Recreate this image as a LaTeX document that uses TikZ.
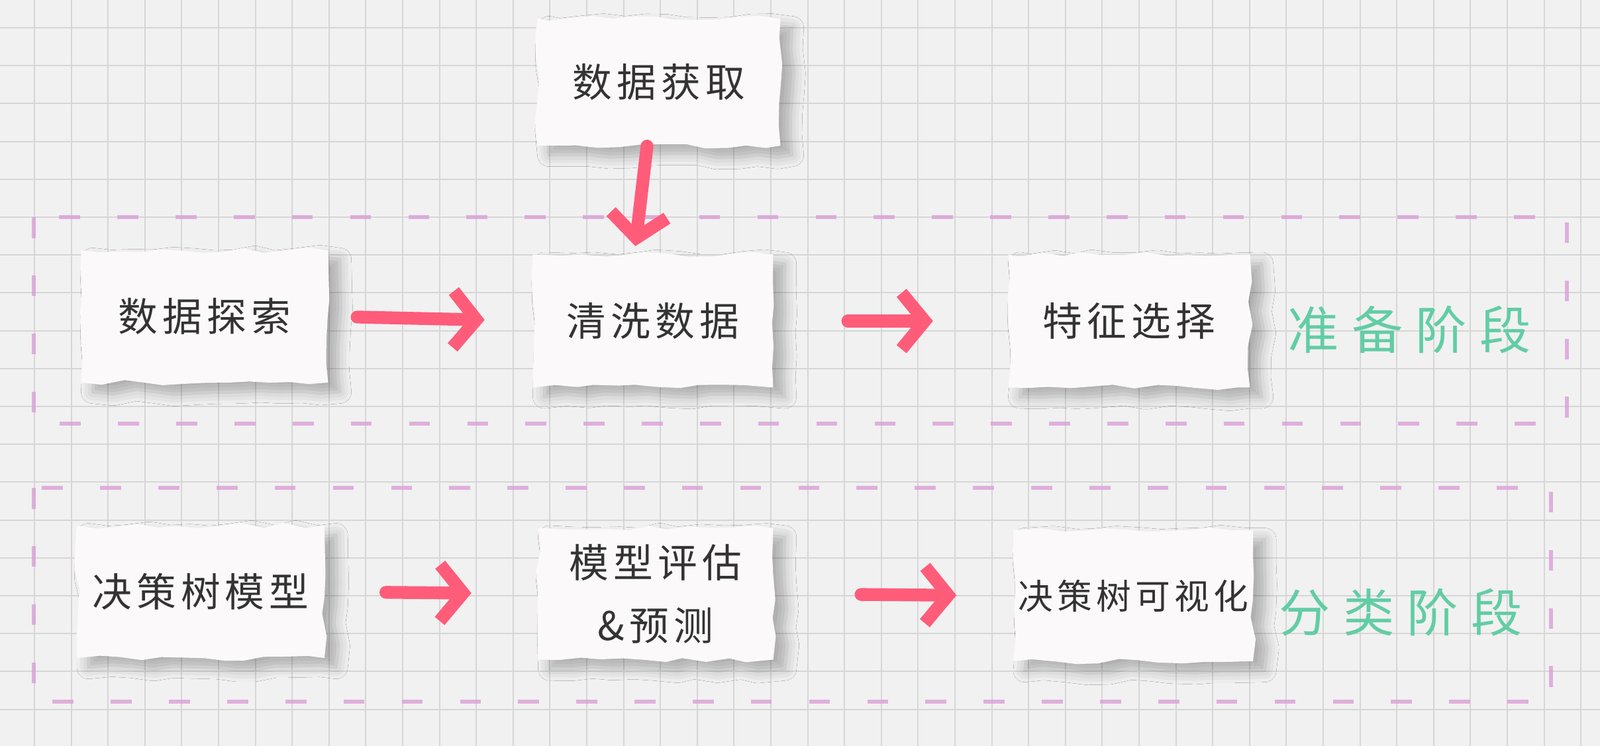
\documentclass[tikz,border=0pt]{standalone}
\usepackage{fontspec}
\usepackage{tikz}
\usetikzlibrary{arrows.meta, positioning, decorations.pathmorphing, shadows.blur}
\newfontfamily\cjk[LetterSpace=12]{Noto Sans CJK SC}
\newfontfamily\cjkwide[LetterSpace=25]{Noto Sans CJK SC}
\definecolor{Sheet_Bg}{HTML}{F1F1F1}
\definecolor{Sheet_Line}{HTML}{D6D6D6}
\definecolor{Paper_White}{HTML}{FBF9FA}
\definecolor{Ink_Gray}{HTML}{333333}
\definecolor{Crayon_Pink}{HTML}{FF5C7A}
\definecolor{Frame_Lilac}{HTML}{D99AD6}
\definecolor{Stage_Green}{HTML}{62CDA5}

\tikzset{
  paper/.style={fill=Paper_White, inner sep=0pt, align=center, text=Ink_Gray,
    decorate, decoration={random steps, segment length=9pt, amplitude=1.2pt},
    blur shadow={shadow xshift=5pt, shadow yshift=-4pt, shadow blur radius=5pt, shadow opacity=28},
    font=\cjk\fontsize{17}{30}\selectfont},
  crayon/.style={Crayon_Pink, line width=5.5pt, line cap=round, line join=round,
    -{Straight Barb[length=3.5mm, width=8.5mm]}},
  phase/.style={draw=Frame_Lilac, line width=1.5pt, dash pattern=on 9pt off 16pt, opacity=0.75},
  stage/.style={text=Stage_Green, font=\cjkwide\fontsize{22}{26}\selectfont}
}

\begin{document}
\begin{tikzpicture}
    % Sheet
    \fill[Sheet_Bg] (0,0) rectangle (24.16,-11.27);
    \useasboundingbox (0,0) rectangle (24.16,-11.27);
    \foreach \x in {0,...,42} \draw[Sheet_Line, line width=0.6pt] ({0.52+0.556*\x},0) -- ++(0,-11.27);
    \foreach \y in {0,...,19} \draw[Sheet_Line, line width=0.6pt] (0,{-0.42-0.572*\y}) -- ++(24.16,0);
    % Phase frames
    \draw[phase] (0.51,-3.28) rectangle (23.66,-6.40);
    \draw[phase] (0.51,-7.37) rectangle (23.42,-10.60);
    % Steps
    \node[paper, minimum width=3.67cm, minimum height=1.92cm] (fetch) at (9.95,-1.24) {数据获取};
    \node[paper, minimum width=3.73cm, minimum height=2.0cm] (explore) at (3.09,-4.78) {数据探索};
    \node[paper, minimum width=3.63cm, minimum height=2.01cm] (clean) at (9.86,-4.85) {清洗数据};
    \node[paper, minimum width=3.65cm, minimum height=2.01cm] (select) at (17.05,-4.85) {特征选择};
    \node[paper, minimum width=3.74cm, minimum height=2.0cm] (model) at (3.03,-8.94) {决策树模型};
    \node[paper, minimum width=3.55cm, minimum height=1.99cm, font=\cjk\fontsize{17}{27}\selectfont] (eval) at (9.9,-8.97) {模型评估\\\&预测};
    \node[paper, minimum width=3.62cm, minimum height=1.98cm, font=\cjk\fontsize{15}{20}\selectfont] (visual) at (17.11,-9.0) {决策树可视化};
    % Stage labels
    \node[stage] (prep) at (21.28,-4.98) {准备阶段};
    \node[stage] (classify) at (21.15,-9.25) {分类阶段};
    % Arrows
    \draw[crayon, shorten >=1.2mm] ([xshift=-1.8mm]fetch.south) -- ([xshift=-2.8mm]clean.north);
    \draw[crayon, shorten <=4.3mm, shorten >=7.2mm] (explore.east) -- (clean.west);
    \draw[crayon, shorten <=11.2mm, shorten >=11.3mm] (clean.east) -- (select.west);
    \draw[crayon, shorten <=9.2mm, shorten >=10mm] (model.east) -- (eval.west);
    \draw[crayon, shorten <=13.2mm, shorten >=8.5mm] (eval.east) -- (visual.west);
\end{tikzpicture}
\end{document}
